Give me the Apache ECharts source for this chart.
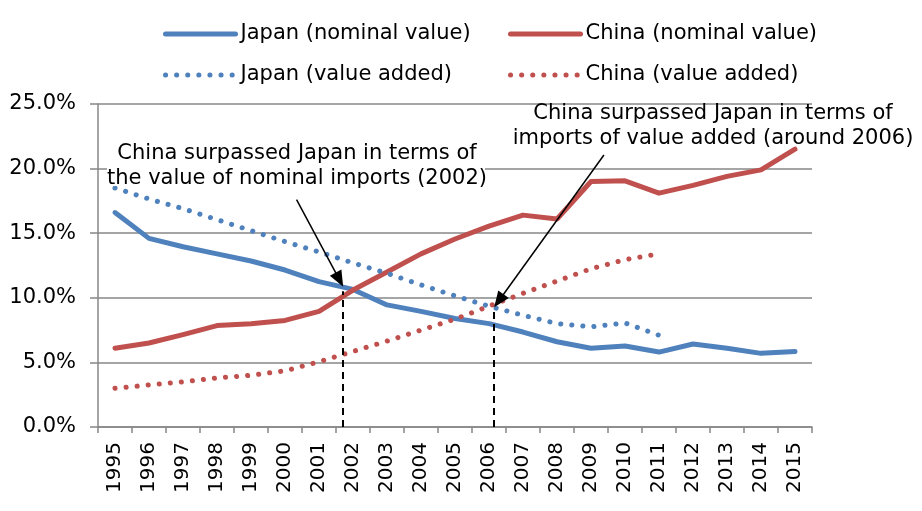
<!DOCTYPE html>
<html>
<head>
<meta charset="utf-8">
<script src="https://cdn.jsdelivr.net/npm/echarts@6/dist/echarts.min.js"></script>
<style>html,body{margin:0;background:#fff}#chart{width:922px;height:511px}</style>
</head>
<body>
<div id="chart"></div>
<script>
// data (share of imports, %)
const years = ['1995','1996','1997','1998','1999','2000','2001','2002','2003','2004','2005',
    '2006','2007','2008','2009','2010','2011','2012','2013','2014','2015'];
const japanNominal = [16.6,14.6,13.95,13.4,12.85,12.15,11.25,10.65,9.45,8.95,8.4,8.0,7.35,6.6,6.1,6.27,5.8,6.42,6.1,5.7,5.85];
const chinaNominal = [6.1,6.5,7.15,7.85,8.0,8.25,8.95,10.6,12.0,13.4,14.55,15.55,16.4,16.1,19.0,19.05,18.1,18.7,19.4,19.9,21.5];
const japanValueAdded = [18.5,17.65,16.9,16.05,15.2,14.35,13.55,12.7,11.9,11.0,10.15,9.35,8.65,8.0,7.75,8.05,7.1];
const chinaValueAdded = [3.0,3.25,3.5,3.8,4.0,4.35,5.05,5.85,6.65,7.5,8.35,9.35,10.35,11.3,12.25,12.95,13.4];
const yTicks = [0, 5, 10, 15, 20, 25];

// annotations, in data units (year, %)
const guideLines = [[2001.71, 10.5], [2006.15, 9.25]];
const arrows = [
    [[2000.34, 17.6], [2001.6, 11.4]],
    [[2009.38, 21.05], [2006.29, 9.77]]
];
const noteNominal = 'China surpassed Japan in terms of\nthe value of nominal imports (2002)';
const noteValueAdded = 'China surpassed Japan in terms of\nimports of value added (around 2006)';

const FONT = 'DejaVu Sans';
const BLUE = '#4f81bd', RED = '#c0504d', GRAY = '#878787';

const chart = echarts.init(document.getElementById('chart'));

function legendAt(name, left, top) {
    return { data: [name], left: left, top: top, itemWidth: 70, itemHeight: 14, padding: 0, selectedMode: false,
        textStyle: { fontFamily: FONT, fontSize: 21, color: '#000', lineHeight: 24 },
        lineStyle: { width: 'inherit' }, itemStyle: { opacity: 0 } };
}

function lineSeries(name, data, color, dotted) {
    return { name: name, type: 'line', data: data, symbol: 'none', smooth: false, z: 3,
        lineStyle: dotted ? { color: color, width: 5, type: [0.1, 11], cap: 'round' }
                          : { color: color, width: 5, cap: 'round', join: 'round' },
        itemStyle: { color: color } };
}

chart.setOption({
    animation: false,
    backgroundColor: '#fff',
    textStyle: { fontFamily: FONT },
    grid: { left: 98, right: 110, top: 104, bottom: 84, containLabel: false },
    legend: [
        legendAt('Japan (nominal value)', 163, 22),
        legendAt('China (nominal value)', 508, 22),
        legendAt('Japan (value added)', 163, 63),
        legendAt('China (value added)', 508, 63)
    ],
    xAxis: [{
        type: 'category', data: years, boundaryGap: true,
        axisLine: { lineStyle: { color: GRAY, width: 1.5 } },
        axisTick: { show: true, length: 6, lineStyle: { color: GRAY, width: 1.5 } },
        axisLabel: { rotate: 90, margin: 15, fontFamily: FONT, fontSize: 20, color: '#000', interval: 0 },
        splitLine: { show: false }
    }, {
        type: 'value', min: 1994.5, max: 2015.5, show: false
    }],
    yAxis: {
        type: 'value', min: yTicks[0], max: yTicks[yTicks.length - 1], interval: 5,
        axisLine: { show: true, lineStyle: { color: GRAY, width: 1.5 } },
        axisTick: { show: true, length: 8, lineStyle: { color: GRAY, width: 1.5 } },
        axisLabel: { margin: 22, fontFamily: FONT, fontSize: 21, color: '#000',
            formatter: v => v.toFixed(1) + '%' },
        splitLine: { lineStyle: { color: GRAY, width: 1.5 } }
    },
    series: [
        lineSeries('Japan (nominal value)', japanNominal, BLUE, false),
        lineSeries('China (nominal value)', chinaNominal, RED, false),
        lineSeries('Japan (value added)', japanValueAdded, BLUE, true),
        lineSeries('China (value added)', chinaValueAdded, RED, true),
        { type: 'line', xAxisIndex: 1, data: [], z: 4,
          markLine: { silent: true, animation: false, symbol: ['none', 'none'], label: { show: false },
            lineStyle: { color: '#000', width: 2, type: [7, 5] },
            data: guideLines.map(g => [{ coord: [g[0], 0] }, { coord: [g[0], g[1]] }]) } },
        { type: 'line', xAxisIndex: 1, data: [], z: 6,
          markLine: { silent: true, animation: false, symbol: ['none', 'triangle'], symbolSize: [13, 16],
            label: { show: false },
            lineStyle: { color: '#000', width: 1.5, type: 'solid' },
            itemStyle: { color: '#000' },
            data: arrows.map(a => [{ coord: a[0] }, { coord: a[1] }]) } }
    ],
    graphic: [
        { type: 'rect', left: 107, top: 141, shape: { width: 378, height: 45 }, style: { fill: '#fff' }, z: 5 },
        { type: 'text', z: 7, x: 297, y: 140.8,
          style: { text: noteNominal, font: '21px "DejaVu Sans"', fill: '#000', align: 'center',
            verticalAlign: 'top', lineHeight: 25 } },
        { type: 'text', z: 7, x: 713, y: 100.8,
          style: { text: noteValueAdded, font: '21px "DejaVu Sans"', fill: '#000', align: 'center',
            verticalAlign: 'top', lineHeight: 25 } }
    ]
});
</script>
</body>
</html>
